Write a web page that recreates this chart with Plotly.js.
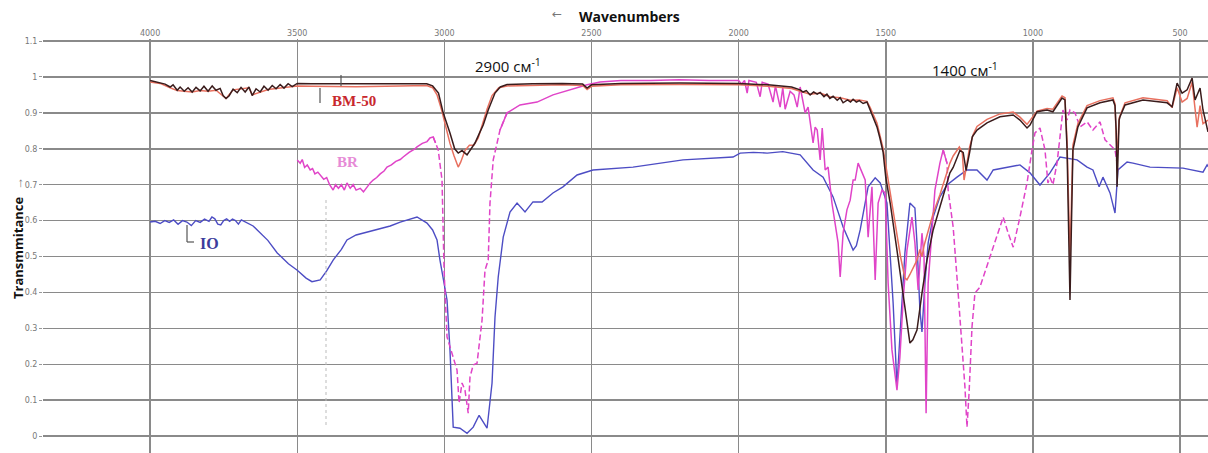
<!DOCTYPE html>
<html>
<head>
<meta charset="utf-8">
<script src="https://cdn.plot.ly/plotly-3.0.1.min.js"></script>
<style>html,body{margin:0;padding:0;background:#fff;}#chart{width:1208px;height:453px;}</style>
</head>
<body>
<div id="chart"></div>
<script>
// ---- Data: [wavenumber cm-1, transmittance] ----
const xTickVals = [4000, 3500, 3000, 2500, 2000, 1500, 1000, 500];
const xTickText = ["4000", "3500", "3000", "2500", "2000", "1500", "1000", "500"];
const yTickVals = [1.1, 1, 0.9, 0.8, 0.7, 0.6, 0.5, 0.4, 0.3, 0.2, 0.1, 0];
const yTickText = ["1.1", "1", "0.9", "0.8", "0.7", "0.6", "0.5", "0.4", "0.3", "0.2", "0.1", "0"];

const bm50Dark = [
[4000,0.99],[3983,0.987],[3966,0.984],[3949,0.98],[3932,0.972],[3922,0.978],[3908,0.963],[3898,0.972],
[3884,0.96],[3871,0.97],[3857,0.958],[3844,0.971],[3830,0.961],[3817,0.974],[3803,0.96],[3789,0.975],
[3776,0.963],[3762,0.968],[3752,0.948],[3742,0.94],[3732,0.947],[3718,0.966],[3704,0.956],[3691,0.971],
[3677,0.958],[3664,0.972],[3653,0.948],[3640,0.967],[3626,0.958],[3613,0.974],[3599,0.963],[3585,0.976],
[3572,0.967],[3558,0.979],[3545,0.969],[3531,0.981],[3517,0.973],[3500,0.982],[3450,0.981],[3300,0.98],
[3150,0.981],[3060,0.981],[3040,0.975],[3020,0.955],[3004,0.9],[2981,0.844],[2965,0.8],[2953,0.788],
[2940,0.795],[2923,0.783],[2910,0.8],[2896,0.816],[2880,0.845],[2868,0.866],[2851,0.908],[2828,0.955],
[2810,0.972],[2787,0.979],[2700,0.981],[2600,0.982],[2530,0.98],[2515,0.969],[2500,0.978],[2400,0.982],
[2200,0.983],[2000,0.982],[1900,0.978],[1820,0.972],[1791,0.964],[1781,0.958],[1770,0.962],[1757,0.95],
[1745,0.958],[1733,0.952],[1723,0.957],[1710,0.945],[1700,0.952],[1690,0.94],[1679,0.946],[1665,0.935],
[1655,0.942],[1645,0.928],[1630,0.936],[1620,0.93],[1611,0.938],[1600,0.93],[1590,0.934],[1577,0.926],
[1564,0.93],[1553,0.908],[1540,0.88],[1530,0.861],[1520,0.83],[1509,0.79],[1500,0.72],[1485,0.649],
[1462,0.518],[1441,0.398],[1428,0.31],[1418,0.259],[1408,0.268],[1394,0.295],[1377,0.398],[1360,0.49],
[1339,0.574],[1316,0.64],[1305,0.666],[1282,0.733],[1271,0.748],[1248,0.795],[1237,0.79],[1227,0.74],
[1215,0.79],[1206,0.833],[1190,0.852],[1156,0.872],[1112,0.889],[1067,0.894],[1044,0.88],[1020,0.858],
[1010,0.866],[986,0.903],[952,0.908],[932,0.903],[901,0.941],[891,0.936],[884,0.8],[878,0.5],
[874,0.379],[870,0.55],[864,0.797],[847,0.861],[816,0.914],[772,0.928],[728,0.936],[721,0.92],
[717,0.85],[714,0.694],[711,0.76],[707,0.88],[704,0.889],[687,0.922],[626,0.936],[544,0.928],
[527,0.917],[510,0.983],[493,0.955],[476,0.964],[459,0.997],[449,0.936],[432,0.969],[422,0.908],[405,0.847]
];

const bm50Red = [
[4000,0.986],[3966,0.982],[3932,0.97],[3908,0.962],[3884,0.96],[3857,0.958],[3830,0.962],[3803,0.96],
[3776,0.963],[3752,0.946],[3742,0.94],[3718,0.964],[3691,0.968],[3664,0.97],[3653,0.95],[3626,0.958],
[3599,0.965],[3572,0.968],[3545,0.97],[3517,0.972],[3500,0.975],[3450,0.974],[3300,0.973],[3150,0.975],
[3060,0.976],[3040,0.97],[3025,0.95],[3010,0.91],[2995,0.86],[2981,0.815],[2967,0.78],[2953,0.749],
[2945,0.762],[2930,0.795],[2915,0.81],[2900,0.81],[2885,0.83],[2870,0.87],[2855,0.91],[2838,0.948],
[2815,0.97],[2787,0.975],[2700,0.977],[2600,0.978],[2530,0.976],[2515,0.965],[2500,0.974],[2400,0.978],
[2200,0.979],[2000,0.978],[1900,0.974],[1820,0.968],[1791,0.96],[1757,0.952],[1723,0.955],[1690,0.945],
[1655,0.942],[1620,0.935],[1590,0.936],[1564,0.932],[1553,0.915],[1530,0.872],[1509,0.8],[1490,0.7],
[1470,0.6],[1450,0.5],[1435,0.44],[1428,0.435],[1418,0.45],[1407,0.47],[1394,0.49],[1384,0.52],
[1377,0.5],[1370,0.53],[1360,0.56],[1339,0.62],[1316,0.672],[1305,0.7],[1282,0.76],[1271,0.78],
[1250,0.805],[1240,0.79],[1234,0.713],[1224,0.76],[1215,0.805],[1203,0.84],[1190,0.862],[1156,0.882],
[1112,0.897],[1067,0.902],[1044,0.888],[1020,0.868],[986,0.905],[952,0.912],[932,0.91],[901,0.947],
[891,0.942],[884,0.82],[878,0.62],[874,0.499],[870,0.62],[864,0.81],[847,0.87],[816,0.92],
[772,0.934],[728,0.942],[721,0.925],[714,0.77],[707,0.885],[687,0.928],[626,0.942],[544,0.934],
[527,0.915],[510,0.97],[493,0.93],[476,0.94],[459,0.985],[449,0.9],[442,0.86],[432,0.92],[422,0.87],[405,0.88]
];

const brSpectrum = [
[3500,0.769],[3490,0.76],[3483,0.77],[3475,0.748],[3466,0.755],[3456,0.741],[3448,0.745],[3440,0.73],
[3430,0.735],[3422,0.727],[3410,0.715],[3400,0.72],[3390,0.70],[3378,0.685],[3370,0.70],[3360,0.69],
[3350,0.70],[3340,0.685],[3331,0.705],[3320,0.69],[3310,0.70],[3300,0.685],[3286,0.69],[3275,0.68],
[3263,0.695],[3252,0.705],[3242,0.713],[3230,0.72],[3218,0.73],[3205,0.738],[3195,0.749],[3180,0.755],
[3165,0.765],[3150,0.77],[3140,0.777],[3120,0.79],[3100,0.80],[3093,0.805],[3075,0.815],[3059,0.82],
[3049,0.83],[3038,0.833],[3030,0.816],[3021,0.797],[3008,0.713],[3001,0.462],[2991,0.276],[2974,0.231],
[2957,0.184],[2950,0.092],[2940,0.148],[2930,0.128],[2919,0.064],[2913,0.164],[2902,0.198],[2889,0.203],
[2872,0.323],[2862,0.462],[2851,0.49],[2845,0.649],[2834,0.769],[2811,0.852],[2787,0.9],[2743,0.922],
[2685,0.93],[2631,0.95],[2573,0.964],[2515,0.978],[2471,0.986],[2400,0.99],[2300,0.99],[2200,0.992],
[2100,0.99],[2000,0.99],[1990,0.98],[1980,0.99],[1971,0.955],[1965,0.99],[1940,0.985],[1927,0.945],
[1920,0.985],[1900,0.98],[1883,0.93],[1875,0.975],[1859,0.916],[1850,0.97],[1842,0.91],[1835,0.928],
[1825,0.96],[1812,0.95],[1801,0.916],[1791,0.972],[1774,0.9],[1764,0.916],[1747,0.816],[1740,0.86],
[1733,0.852],[1723,0.769],[1716,0.858],[1706,0.741],[1696,0.749],[1683,0.649],[1672,0.593],[1662,0.538],
[1655,0.443],[1645,0.565],[1632,0.63],[1621,0.657],[1611,0.713],[1604,0.713],[1594,0.76],[1580,0.733],
[1570,0.713],[1560,0.554],[1547,0.694],[1536,0.435],[1526,0.649],[1513,0.685],[1502,0.677],[1492,0.426],
[1479,0.24],[1462,0.128],[1452,0.22],[1441,0.379],[1428,0.518],[1411,0.61],[1401,0.538],[1390,0.407],
[1377,0.565],[1370,0.499],[1363,0.064],[1356,0.426],[1343,0.565],[1333,0.685],[1316,0.76],[1305,0.797],
[1292,0.76],[1288,0.685],[1271,0.582],[1254,0.398],[1241,0.259],[1231,0.137],[1224,0.025],[1217,0.12],
[1207,0.304],[1197,0.398],[1180,0.415],[1156,0.471],[1135,0.526],[1112,0.582],[1101,0.61],[1084,0.565],
[1067,0.526],[1044,0.61],[1020,0.705],[1003,0.797],[993,0.844],[976,0.858],[959,0.797],[949,0.705],
[942,0.72],[932,0.7],[918,0.76],[908,0.833],[898,0.908],[884,0.88],[874,0.908],[857,0.9],
[840,0.861],[816,0.875],[796,0.852],[772,0.875],[755,0.825],[738,0.811],[721,0.797],[714,0.76],[711,0.74]
];

const ioSpectrum = [
[4000,0.596],[3983,0.598],[3966,0.592],[3950,0.6],[3935,0.595],[3920,0.602],[3905,0.59],[3890,0.6],
[3875,0.596],[3860,0.586],[3845,0.6],[3830,0.595],[3815,0.604],[3800,0.598],[3790,0.61],[3780,0.605],
[3770,0.59],[3760,0.588],[3750,0.6],[3740,0.605],[3730,0.598],[3720,0.604],[3710,0.6],[3700,0.59],
[3690,0.602],[3675,0.596],[3660,0.59],[3650,0.585],[3636,0.574],[3600,0.545],[3568,0.51],[3530,0.48],
[3500,0.462],[3470,0.44],[3450,0.43],[3422,0.435],[3400,0.46],[3378,0.49],[3350,0.52],[3331,0.546],
[3300,0.56],[3263,0.568],[3218,0.578],[3184,0.585],[3150,0.596],[3093,0.61],[3059,0.593],[3040,0.574],
[3025,0.546],[3015,0.49],[2991,0.379],[2981,0.24],[2970,0.025],[2947,0.022],[2923,0.008],[2902,0.025],
[2882,0.058],[2855,0.022],[2838,0.148],[2828,0.331],[2817,0.443],[2800,0.554],[2777,0.624],[2753,0.649],
[2726,0.624],[2699,0.652],[2668,0.652],[2631,0.677],[2597,0.694],[2549,0.727],[2495,0.741],[2359,0.749],
[2189,0.769],[2019,0.777],[1995,0.788],[1950,0.79],[1903,0.788],[1850,0.792],[1791,0.783],[1747,0.741],
[1713,0.721],[1679,0.666],[1645,0.582],[1611,0.518],[1600,0.53],[1587,0.574],[1560,0.694],[1536,0.719],
[1519,0.705],[1496,0.649],[1475,0.37],[1462,0.14],[1452,0.276],[1435,0.51],[1418,0.649],[1401,0.635],
[1394,0.538],[1384,0.351],[1377,0.29],[1367,0.426],[1356,0.538],[1339,0.61],[1316,0.666],[1292,0.699],
[1258,0.721],[1224,0.741],[1190,0.741],[1156,0.713],[1135,0.741],[1084,0.749],[1044,0.755],[1010,0.733],
[976,0.699],[942,0.733],[908,0.777],[850,0.769],[816,0.749],[796,0.741],[775,0.694],[762,0.721],
[738,0.677],[721,0.621],[711,0.741],[680,0.763],[660,0.76],[602,0.749],[490,0.746],[422,0.735],[408,0.755],[404,0.75]
];

// ---- Build traces ----
function xs(a){ return a.map(p => p[0]); }
function ys(a){ return a.map(p => p[1]); }

// BR is drawn dashed in the steep regions, solid elsewhere
function isDashed(w){ return (w <= 3030 && w >= 2790) || (w <= 1300); }
function splitSegments(a){
  const segs = [];
  let cur = null;
  for (let i = 0; i < a.length; i++){
    const d = isDashed(a[i][0]);
    if (!cur){
      cur = {d: d, pts: [a[i]]}; segs.push(cur);
    } else if (cur.d !== d){
      cur.pts.push(a[i]);
      cur = {d: d, pts: [a[i-1], a[i]]}; segs.push(cur);
    } else {
      cur.pts.push(a[i]);
    }
  }
  return segs;
}

const traces = [];
traces.push({x: xs(ioSpectrum), y: ys(ioSpectrum), mode: 'lines', line: {color: '#4d4dc4', width: 1.4}, hoverinfo: 'skip'});
splitSegments(brSpectrum).forEach(s => {
  traces.push({x: xs(s.pts), y: ys(s.pts), mode: 'lines',
    line: {color: '#e044c8', width: 1.5, dash: s.d ? '6px,3px' : 'solid'}, hoverinfo: 'skip'});
});
traces.push({x: xs(bm50Red), y: ys(bm50Red), mode: 'lines', line: {color: '#e8705f', width: 1.5}, hoverinfo: 'skip'});
traces.push({x: xs(bm50Dark), y: ys(bm50Dark), mode: 'lines', line: {color: '#3a1c1c', width: 1.5}, hoverinfo: 'skip'});

// paper coordinate helpers (plot area: x 43..1208 px, y 39..453 px)
const PX = px => (px - 43) / 1165;
const PY = py => (453 - py) / 414;
function label(px, py, text, font, extra){
  return Object.assign({xref: 'paper', yref: 'paper', x: PX(px), y: PY(py), text: text,
    showarrow: false, xanchor: 'center', yanchor: 'middle', font: font}, extra || {});
}

const layout = {
  width: 1208, height: 453,
  margin: {l: 43, r: 0, t: 39, b: 0, pad: 0},
  paper_bgcolor: '#ffffff', plot_bgcolor: '#ffffff',
  showlegend: false,
  font: {family: 'DejaVu Sans, sans-serif', color: '#666'},
  xaxis: {
    range: [4364, 405], side: 'top', tickvals: xTickVals, ticktext: xTickText,
    showgrid: true, gridcolor: '#8a8a8a', gridwidth: 1.5, zeroline: false, showline: false,
    ticks: '', tickfont: {size: 8, color: '#777'}, fixedrange: true
  },
  yaxis: {
    range: [-0.047, 1.1056], tickvals: yTickVals, ticktext: yTickText,
    showgrid: true, gridcolor: '#8a8a8a', gridwidth: 1.5, zeroline: false, showline: false,
    ticks: 'outside', ticklen: 3, tickcolor: '#999', tickfont: {size: 8, color: '#777'}, fixedrange: true
  },
  shapes: [
    {type: 'line', xref: 'paper', yref: 'paper', x0: PX(326), x1: PX(326), y0: PY(200), y1: PY(427),
      line: {color: '#bbbbbb', width: 1, dash: 'dot'}},
    {type: 'line', xref: 'paper', yref: 'paper', x0: PX(320), x1: PX(320), y0: PY(88), y1: PY(103),
      line: {color: '#555', width: 1.2}},
    {type: 'line', xref: 'paper', yref: 'paper', x0: PX(341), x1: PX(341), y0: PY(75), y1: PY(86),
      line: {color: '#555', width: 1.2}},
    {type: 'line', xref: 'paper', yref: 'paper', x0: PX(187), x1: PX(187), y0: PY(225), y1: PY(242),
      line: {color: '#555', width: 1.2}},
    {type: 'line', xref: 'paper', yref: 'paper', x0: PX(187), x1: PX(194), y0: PY(242), y1: PY(242),
      line: {color: '#555', width: 1.2}}
  ],
  annotations: [
    label(557, 14, '←', {family: 'DejaVu Sans', size: 12, color: '#777'}),
    label(629, 17, '<b>Wavenumbers</b>', {family: 'Open Sans, sans-serif', size: 14, color: '#111'}),
    label(18, 238, '<b>Transmmitance</b>  <span style="color:#777">→</span>',
      {family: 'Open Sans, sans-serif', size: 13, color: '#111'}, {textangle: -90}),
    label(508, 66, '2900 см<sup>-1</sup>', {family: 'Open Sans, sans-serif', size: 15, color: '#111'}),
    label(965, 69, '1400 см<sup>-1</sup>', {family: 'Open Sans, sans-serif', size: 15, color: '#111'}),
    label(354, 101, '<b>BM-50</b>', {family: 'Liberation Serif, serif', size: 15, color: '#c8282d'}),
    label(347, 162, '<b>BR</b>', {family: 'Liberation Serif, serif', size: 15, color: '#e68ad6'}),
    label(209, 243, '<b>IO</b>', {family: 'Liberation Serif, serif', size: 16, color: '#3c3c9c'})
  ]
};

Plotly.newPlot('chart', traces, layout, {staticPlot: true, displayModeBar: false});
</script>
</body>
</html>
